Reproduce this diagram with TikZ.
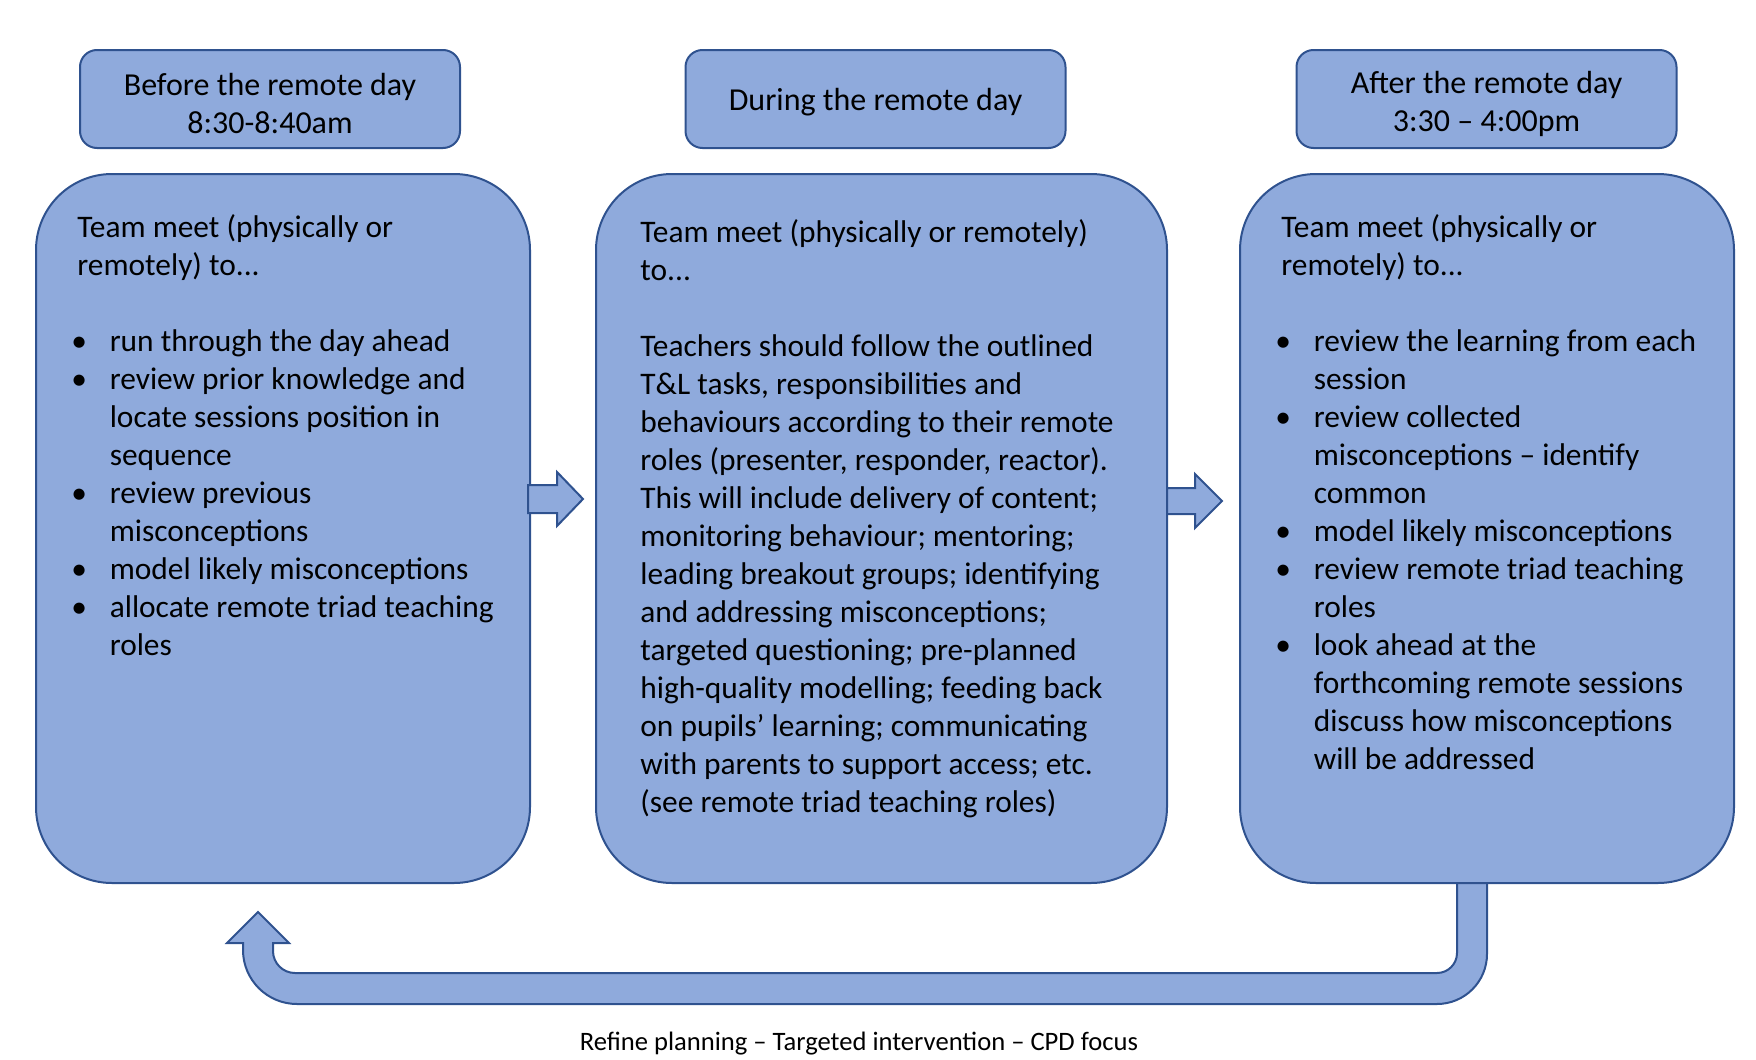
\documentclass[tikz,border=0pt]{standalone}
\usepackage{fontspec}
\setmainfont{Carlito}
\usetikzlibrary{positioning, calc}
\definecolor{cPanel}{RGB}{143, 170, 220}
\definecolor{bPanel}{RGB}{47, 82, 143}

\newcommand{\bul}{\hspace*{-3pt}\makebox[19.2pt][l]{\textbullet}}
\newcommand{\ind}{\hspace*{16.2pt}}

\begin{document}
\begin{tikzpicture}[
    x=0.5pt, y=-0.5pt,
    hdr/.style={
        draw=bPanel,
        fill=cPanel,
        line width=1pt,
        rounded corners=8.5pt,
        minimum width=190pt,
        minimum height=49pt
    },
    hdrtext/.style={
        align=center,
        inner sep=0pt,
        font=\fontsize{16}{19}\selectfont
    },
    panel/.style={
        draw=bPanel,
        fill=cPanel,
        line width=1pt,
        rounded corners=38pt,
        minimum height=354.5pt,
        inner sep=0pt
    },
    body/.style={
        anchor=north west,
        align=left,
        inner sep=0pt,
        font=\fontsize{15.7}{19}\selectfont
    },
    blockarrow/.style={draw=bPanel, fill=cPanel, line width=1pt, line join=miter}
]

\useasboundingbox (0,0) rectangle (1756,1060);

% headers
\node[hdr] (h1) at (270, 99) {};
\node[hdr] (h2) at (875.5, 99) {};
\node[hdr] (h3) at (1486.5, 99) {};
\node[hdrtext] (h1t) at ([yshift=-2.3pt]h1.center) {Before the remote day\\8:30-8:40am};
\node[hdrtext] (h2t) at ([yshift=-1.7pt]h2.center) {During the remote day};
\node[hdrtext] (h3t) at ([yshift=-2.3pt]h3.center) {After the remote day\\3:30 -- 4:00pm};

% loop back arrow (drawn under the panels)
\coordinate (loopstart) at (1487, 883);
\draw[blockarrow] (loopstart) -- ++(0,71)
    arc[start angle=0, end angle=-90, radius=25pt] -- ++(-1140,0)
    arc[start angle=-90, end angle=-180, radius=27pt] -- ++(0,-7)
    -- ++(-16,0) -- ++(31,-31) -- ++(31,31) -- ++(-16,0) -- ++(0,8)
    arc[start angle=180, end angle=270, radius=11pt] -- ++(1142,0)
    arc[start angle=270, end angle=360, radius=10pt] -- ++(0,-71) -- cycle;

% panels
\node[panel, minimum width=247pt] (b1) at (283, 528.5) {};
\node[panel, minimum width=285.5pt] (b2) at (881.5, 528.5) {};
\node[panel, minimum width=247pt] (b3) at (1487, 528.5) {};

\node[body] (t1) at ([xshift=21pt, yshift=-20.5pt]b1.north west) {%
    Team meet (physically or\\
    remotely) to...\\[19pt]
    \bul run through the day ahead\\
    \bul review prior knowledge and\\
    \ind locate sessions position in\\
    \ind sequence\\
    \bul review previous\\
    \ind misconceptions\\
    \bul model likely misconceptions\\
    \bul allocate remote triad teaching\\
    \ind roles};

\node[body] (t2) at ([xshift=22.5pt, yshift=-23pt]b2.north west) {%
    Team meet (physically or remotely)\\
    to...\\[19pt]
    Teachers should follow the outlined\\
    T\&L tasks, responsibilities and\\
    behaviours according to their remote\\
    roles (presenter, responder, reactor).\\
    This will include delivery of content;\\
    monitoring behaviour; mentoring;\\
    leading breakout groups; identifying\\
    and addressing misconceptions;\\
    targeted questioning; pre-planned\\
    high-quality modelling; feeding back\\
    on pupils’ learning; communicating\\
    with parents to support access; etc.\\
    (see remote triad teaching roles)};

\node[body] (t3) at ([xshift=21pt, yshift=-20.5pt]b3.north west) {%
    Team meet (physically or\\
    remotely) to...\\[19pt]
    \bul review the learning from each\\
    \ind session\\
    \bul review collected\\
    \ind misconceptions -- identify\\
    \ind common\\
    \bul model likely misconceptions\\
    \bul review remote triad teaching\\
    \ind roles\\
    \bul look ahead at the\\
    \ind forthcoming remote sessions\\
    \ind discuss how misconceptions\\
    \ind will be addressed};

% arrows between panels
\draw[blockarrow] ([shift={(-3,-43.5)}]b1.east) -- ++(29,0) -- ++(0,-13)
    -- ++(26,27) -- ++(-26,27) -- ++(0,-13) -- ++(-29,0) -- cycle;
\draw[blockarrow] ([shift={(-1,-40.5)}]b2.east) -- ++(28,0) -- ++(0,-14)
    -- ++(27,27) -- ++(-27,27) -- ++(0,-14) -- ++(-28,0) -- cycle;

\node[font=\fontsize{13.3}{16}\selectfont] (cap) at (859, 1044)
    {Refine planning -- Targeted intervention -- CPD focus};

\end{tikzpicture}
\end{document}
